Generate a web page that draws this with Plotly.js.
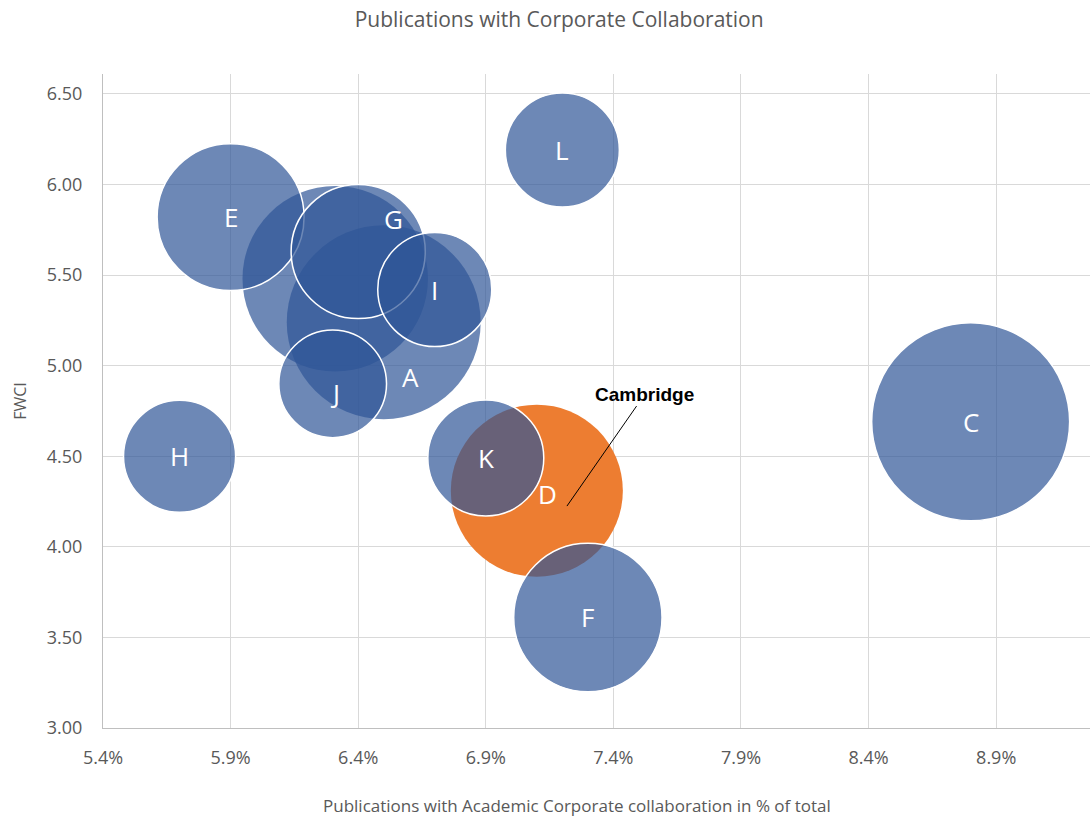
<!DOCTYPE html>
<html><head><meta charset="utf-8">
<script src="https://cdn.plot.ly/plotly-3.0.1.min.js"></script>
<style>html,body{margin:0;padding:0;background:#fff}#chart{width:1090px;height:819px}</style>
</head><body><div id="chart"></div>
<script>
// Data (draw order: larger background bubbles first)
const institutions = ['B', 'A', 'D', 'C', 'E', 'G', 'I', 'J', 'H', 'K', 'F', 'L'];
const collabPct   = [6.31, 6.50, 7.10, 8.80, 5.90, 6.40, 6.70, 6.30, 5.70, 6.90, 7.30, 7.20];
const fwci        = [5.48, 5.24, 4.31, 4.69, 5.82, 5.63, 5.42, 4.90, 4.50, 4.49, 3.61, 6.19];
const bubbleSize  = [86, 94, 74, 98, 54, 45, 32.5, 29, 31.4, 33.6, 55, 32.5];
const labelText   = ['', 'A', 'D', 'C', 'E', 'G', 'I', 'J', 'H', 'K', 'F', 'L'];
const highlight = 'D';
const highlightName = 'Cambridge';
const xTickVals = [5.4, 5.9, 6.4, 6.9, 7.4, 7.9, 8.4, 8.9];

// Styles
const BLUE = 'rgba(47,85,151,0.7)';
const ORANGE = 'rgba(237,125,49,1)';
const noBorder = ['B', 'A', 'D'];
const labelShift = {G: [35, 33], A: [27, -55], D: [11, -3], J: [2, -9]};
const FONT = 'Open Sans, Lato, sans-serif';
const GREY = '#595959';

const colors = institutions.map(n => n === highlight ? ORANGE : BLUE);
const lineW = institutions.map(n => noBorder.includes(n) ? 0 : 1.5);

const trace = {
  type: 'scatter', mode: 'markers',
  x: collabPct, y: fwci, text: institutions,
  hoverinfo: 'text+x+y',
  marker: {
    size: bubbleSize, sizemode: 'area', sizeref: 0.005,
    color: colors, opacity: 1,
    line: {color: 'rgba(255,255,255,1)', width: lineW}
  },
  showlegend: false
};

const annotations = [];
institutions.forEach((n, i) => {
  if (!labelText[i]) return;
  const s = labelShift[n] || [0, 0];
  annotations.push({
    x: collabPct[i], y: fwci[i], xref: 'x', yref: 'y',
    text: labelText[i], showarrow: false,
    xshift: s[0], yshift: s[1],
    font: {family: FONT, size: 26, color: '#ffffff'}
  });
});
const hi = institutions.indexOf(highlight);
annotations.push({
  x: collabPct[hi] + 0.118, y: fwci[hi] - 0.085, xref: 'x', yref: 'y',
  text: '<b>' + highlightName + '</b>', showarrow: true,
  ax: 78, ay: -112, arrowhead: 0, arrowwidth: 1, arrowcolor: '#000', standoff: 0,
  font: {family: 'Liberation Sans, Arial, sans-serif', size: 19, color: '#000'}
});
// x-axis title (placed like the original, slightly left of plot centre)
annotations.push({
  xref: 'paper', yref: 'paper', x: 0.48, y: -0.118, xanchor: 'center', yanchor: 'middle',
  text: 'Publications with Academic Corporate collaboration in % of total', showarrow: false,
  font: {family: FONT, size: 17, color: GREY}
});

const layout = {
  width: 1090, height: 819,
  margin: {l: 103, r: 0, t: 74, b: 91},
  paper_bgcolor: '#fff', plot_bgcolor: '#fff',
  title: {text: 'Publications with Corporate Collaboration',
    font: {family: FONT, size: 21, color: GREY},
    x: 0.513, xanchor: 'center', xref: 'container', y: 0.976, yanchor: 'middle', yref: 'container'},
  xaxis: {
    range: [5.4, 9.2676], tickvals: xTickVals, ticktext: xTickVals.map(v => v.toFixed(1) + '%'),
    showgrid: true, gridcolor: '#d9d9d9', gridwidth: 1,
    showline: true, linecolor: '#bfbfbf', linewidth: 1, zeroline: false,
    ticks: '', ticklabelstandoff: 13,
    tickfont: {family: FONT, size: 18, color: GREY}
  },
  yaxis: {
    range: [3.0, 6.61], tick0: 3, dtick: 0.5, tickformat: '.2f',
    showgrid: true, gridcolor: '#d9d9d9', gridwidth: 1,
    showline: true, linecolor: '#bfbfbf', linewidth: 1, zeroline: false,
    ticks: '', ticklabelstandoff: 16,
    tickfont: {family: FONT, size: 18, color: GREY},
    title: {text: 'FWCI', font: {family: FONT, size: 16, color: GREY}, standoff: 16}
  },
  annotations: annotations
};

Plotly.newPlot('chart', [trace], layout, {displayModeBar: false, responsive: false});
</script>
</body></html>
